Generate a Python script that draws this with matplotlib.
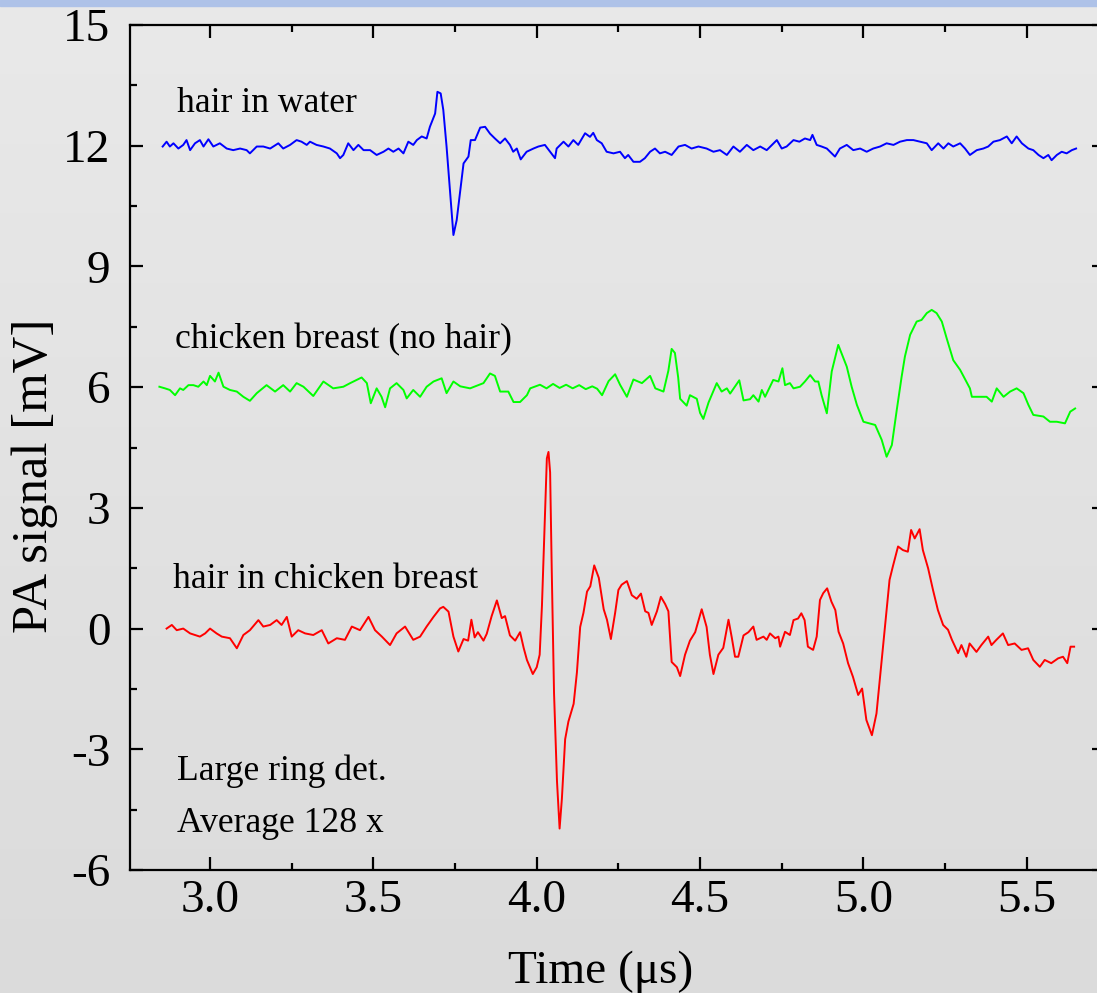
import numpy as np
import matplotlib.pyplot as plt
from matplotlib.colors import LinearSegmentedColormap
from matplotlib.patches import Rectangle
from matplotlib.ticker import MultipleLocator

plt.rcParams['font.family'] = ['Liberation Serif', 'DejaVu Serif']

# hair in water (blue)
t_water = [2.855, 2.867, 2.877, 2.888, 2.903, 2.918, 2.928, 2.939, 2.954, 2.969, 2.980, 2.995,
           3.010, 3.030, 3.051, 3.071, 3.092, 3.112, 3.122, 3.143, 3.163, 3.184, 3.209, 3.224,
           3.245, 3.265, 3.280, 3.296, 3.306, 3.326, 3.347, 3.367, 3.388, 3.398, 3.408, 3.423,
           3.439, 3.454, 3.470, 3.490, 3.510, 3.531, 3.546, 3.561, 3.577, 3.592, 3.607, 3.622,
           3.633, 3.648, 3.663, 3.673, 3.689, 3.696, 3.706, 3.714, 3.724, 3.735, 3.745, 3.755,
           3.765, 3.776, 3.791, 3.798, 3.811, 3.827, 3.842, 3.857, 3.872, 3.888, 3.903, 3.918,
           3.928, 3.939, 3.951, 3.969, 3.990, 4.005, 4.025, 4.041, 4.056, 4.061, 4.082, 4.097,
           4.112, 4.127, 4.148, 4.163, 4.173, 4.184, 4.199, 4.214, 4.235, 4.255, 4.270, 4.280,
           4.296, 4.316, 4.331, 4.347, 4.362, 4.377, 4.393, 4.413, 4.434, 4.454, 4.474, 4.495,
           4.520, 4.541, 4.561, 4.582, 4.602, 4.622, 4.643, 4.663, 4.684, 4.704, 4.735, 4.750,
           4.765, 4.786, 4.804, 4.821, 4.837, 4.844, 4.857, 4.872, 4.888, 4.898, 4.913, 4.928,
           4.949, 4.969, 4.990, 5.010, 5.030, 5.051, 5.071, 5.092, 5.112, 5.133, 5.153, 5.173,
           5.194, 5.209, 5.229, 5.245, 5.260, 5.275, 5.296, 5.311, 5.326, 5.347, 5.367, 5.382,
           5.398, 5.418, 5.439, 5.454, 5.469, 5.485, 5.505, 5.520, 5.536, 5.551, 5.566, 5.576,
           5.592, 5.607, 5.622, 5.638, 5.651]
v_water = [11.98, 12.10, 11.98, 12.06, 11.93, 12.02, 12.14, 11.89, 12.06, 12.14, 11.98, 12.16,
           11.98, 12.06, 11.93, 11.89, 11.93, 11.89, 11.81, 11.98, 11.98, 11.93, 12.06, 11.93,
           12.02, 12.14, 12.10, 12.02, 12.10, 12.02, 11.98, 11.93, 11.81, 11.69, 11.77, 12.06,
           11.89, 12.02, 11.89, 11.89, 11.77, 11.85, 11.93, 11.85, 11.93, 11.81, 12.10, 12.02,
           12.14, 12.23, 12.18, 12.47, 12.80, 13.34, 13.30, 12.89, 11.98, 10.82, 9.78, 10.15,
           10.82, 11.56, 11.73, 12.14, 12.14, 12.45, 12.47, 12.30, 12.18, 12.06, 12.18, 12.02,
           11.85, 11.93, 11.66, 11.85, 11.93, 11.98, 12.02, 11.85, 11.69, 11.93, 12.10, 11.98,
           12.14, 12.02, 12.31, 12.22, 12.32, 12.14, 12.06, 11.85, 11.81, 11.85, 11.69, 11.77,
           11.60, 11.60, 11.69, 11.85, 11.93, 11.81, 11.85, 11.77, 11.98, 12.02, 11.93, 11.98,
           11.93, 11.85, 11.89, 11.77, 11.98, 11.85, 12.02, 11.89, 11.98, 11.89, 12.14, 11.93,
           11.98, 12.14, 12.10, 12.18, 12.14, 12.27, 12.02, 11.98, 11.93, 11.85, 11.73, 11.93,
           12.02, 11.89, 11.93, 11.85, 11.93, 11.98, 12.06, 12.02, 12.10, 12.14, 12.14, 12.10,
           12.06, 11.89, 12.06, 11.93, 12.06, 11.98, 12.06, 11.93, 11.77, 11.89, 11.93, 11.98,
           12.10, 12.14, 12.23, 12.06, 12.23, 12.06, 11.93, 11.89, 11.77, 11.69, 11.77, 11.64,
           11.77, 11.85, 11.81, 11.89, 11.93]

# chicken breast, no hair (green)
t_chicken = [2.845, 2.862, 2.877, 2.893, 2.908, 2.918, 2.934, 2.949, 2.964, 2.980, 2.990, 3.000,
             3.015, 3.026, 3.041, 3.061, 3.082, 3.102, 3.122, 3.143, 3.173, 3.199, 3.224, 3.245,
             3.265, 3.286, 3.316, 3.347, 3.377, 3.408, 3.429, 3.464, 3.480, 3.492, 3.510, 3.525,
             3.536, 3.551, 3.571, 3.592, 3.602, 3.622, 3.643, 3.663, 3.684, 3.709, 3.724, 3.745,
             3.766, 3.796, 3.837, 3.857, 3.872, 3.888, 3.913, 3.929, 3.949, 3.970, 3.980, 4.010,
             4.030, 4.050, 4.070, 4.090, 4.110, 4.130, 4.150, 4.170, 4.185, 4.200, 4.220, 4.240,
             4.255, 4.276, 4.296, 4.322, 4.347, 4.363, 4.388, 4.403, 4.413, 4.423, 4.433, 4.439,
             4.459, 4.469, 4.490, 4.500, 4.510, 4.526, 4.551, 4.566, 4.582, 4.592, 4.620, 4.633,
             4.653, 4.663, 4.679, 4.689, 4.699, 4.709, 4.724, 4.740, 4.752, 4.760, 4.775, 4.786,
             4.806, 4.821, 4.837, 4.852, 4.862, 4.872, 4.888, 4.903, 4.923, 4.939, 4.949, 4.964,
             4.980, 5.000, 5.036, 5.056, 5.071, 5.087, 5.102, 5.117, 5.127, 5.143, 5.163, 5.178,
             5.194, 5.209, 5.224, 5.240, 5.255, 5.275, 5.296, 5.326, 5.332, 5.357, 5.377, 5.393,
             5.408, 5.429, 5.449, 5.469, 5.490, 5.505, 5.520, 5.551, 5.571, 5.592, 5.617, 5.633,
             5.648]
v_chicken = [6.01, 5.97, 5.93, 5.80, 5.97, 5.93, 6.05, 6.05, 6.01, 6.14, 6.05, 6.28,
             6.14, 6.36, 6.01, 5.93, 5.89, 5.76, 5.66, 5.85, 6.05, 5.89, 6.05, 5.89,
             6.10, 6.01, 5.78, 6.14, 5.97, 6.01, 6.10, 6.24, 6.10, 5.60, 5.97, 5.76,
             5.50, 5.97, 6.10, 5.93, 5.72, 5.93, 5.76, 6.01, 6.14, 6.22, 5.85, 6.14,
             6.02, 5.97, 6.10, 6.34, 6.28, 5.89, 5.89, 5.63, 5.63, 5.80, 5.97, 6.06,
             5.97, 6.08, 5.98, 6.06, 5.97, 6.05, 5.95, 6.02, 5.96, 5.80, 6.15, 6.32,
             6.06, 5.76, 6.19, 6.10, 6.28, 5.97, 5.89, 6.41, 6.95, 6.85, 6.24, 5.71,
             5.54, 5.80, 5.71, 5.36, 5.21, 5.62, 6.10, 5.89, 5.97, 5.84, 6.17, 5.67,
             5.70, 5.80, 5.64, 5.93, 5.76, 5.93, 6.18, 6.14, 6.47, 6.05, 6.10, 5.97,
             6.01, 6.14, 6.30, 6.14, 6.14, 5.80, 5.35, 6.39, 7.05, 6.72, 6.51, 6.01,
             5.56, 5.14, 5.06, 4.69, 4.27, 4.56, 5.43, 6.26, 6.76, 7.30, 7.63, 7.67,
             7.84, 7.92, 7.84, 7.63, 7.21, 6.67, 6.43, 5.97, 5.76, 5.76, 5.76, 5.64,
             5.97, 5.76, 5.89, 5.97, 5.85, 5.56, 5.31, 5.27, 5.14, 5.14, 5.10, 5.39,
             5.47]

# hair in chicken breast (red)
t_hair = [2.867, 2.883, 2.898, 2.918, 2.939, 2.969, 2.985, 3.000, 3.020, 3.036, 3.061, 3.082,
          3.102, 3.122, 3.148, 3.163, 3.184, 3.204, 3.219, 3.235, 3.250, 3.270, 3.291, 3.316,
          3.342, 3.362, 3.388, 3.413, 3.434, 3.459, 3.485, 3.505, 3.526, 3.551, 3.571, 3.597,
          3.622, 3.643, 3.663, 3.684, 3.704, 3.714, 3.730, 3.745, 3.760, 3.776, 3.790, 3.800,
          3.810, 3.820, 3.837, 3.847, 3.862, 3.878, 3.893, 3.903, 3.918, 3.934, 3.949, 3.960,
          3.970, 3.988, 4.000, 4.009, 4.016, 4.023, 4.031, 4.036, 4.041, 4.046, 4.053, 4.062,
          4.070, 4.077, 4.087, 4.097, 4.113, 4.123, 4.133, 4.143, 4.154, 4.164, 4.176, 4.190,
          4.205, 4.215, 4.227, 4.240, 4.250, 4.260, 4.276, 4.291, 4.306, 4.319, 4.332, 4.342,
          4.352, 4.368, 4.380, 4.393, 4.403, 4.413, 4.429, 4.439, 4.454, 4.469, 4.485, 4.505,
          4.520, 4.530, 4.541, 4.556, 4.571, 4.587, 4.597, 4.607, 4.617, 4.633, 4.648, 4.663,
          4.673, 4.694, 4.704, 4.714, 4.730, 4.740, 4.745, 4.760, 4.775, 4.786, 4.800, 4.810,
          4.820, 4.830, 4.846, 4.857, 4.867, 4.877, 4.889, 4.902, 4.914, 4.924, 4.938, 4.953,
          4.968, 4.984, 4.996, 5.009, 5.026, 5.040, 5.050, 5.065, 5.080, 5.090, 5.106, 5.121,
          5.136, 5.146, 5.157, 5.172, 5.182, 5.198, 5.213, 5.228, 5.244, 5.259, 5.271, 5.290,
          5.300, 5.315, 5.325, 5.346, 5.361, 5.382, 5.392, 5.407, 5.427, 5.443, 5.463, 5.484,
          5.504, 5.520, 5.540, 5.555, 5.575, 5.596, 5.611, 5.624, 5.634, 5.645]
v_hair = [0.00, 0.09, -0.04, 0.00, -0.12, -0.20, -0.12, 0.00, -0.12, -0.20, -0.24, -0.49,
          -0.16, -0.04, 0.21, 0.05, 0.09, 0.21, 0.09, 0.29, -0.20, -0.04, -0.12, -0.16,
          -0.04, -0.37, -0.24, -0.28, 0.05, -0.04, 0.29, -0.04, -0.20, -0.41, -0.12, 0.05,
          -0.28, -0.20, 0.05, 0.29, 0.50, 0.54, 0.42, -0.20, -0.57, -0.26, -0.30, 0.22,
          -0.22, -0.09, -0.30, -0.13, 0.31, 0.70, 0.26, 0.31, -0.17, -0.30, -0.09, -0.48,
          -0.78, -1.13, -0.96, -0.65, 0.57, 2.31, 4.23, 4.39, 3.88, 1.44, -1.61, -3.79,
          -4.97, -4.23, -2.75, -2.31, -1.87, -1.09, 0.04, 0.39, 0.92, 1.05, 1.57, 1.26,
          0.48, 0.22, -0.26, 0.39, 0.96, 1.09, 1.18, 0.83, 0.74, 0.87, 0.43, 0.39,
          0.09, 0.43, 0.79, 0.61, 0.43, -0.83, -0.96, -1.18, -0.65, -0.30, -0.09, 0.48,
          0.04, -0.65, -1.13, -0.65, -0.48, 0.22, -0.22, -0.70, -0.70, -0.17, -0.09, 0.05,
          -0.28, -0.20, -0.28, -0.12, -0.24, -0.20, -0.45, -0.08, -0.16, 0.21, 0.25, 0.38,
          0.21, -0.45, -0.53, -0.20, 0.71, 0.88, 1.00, 0.67, 0.46, -0.08, -0.37, -0.86,
          -1.20, -1.65, -1.49, -2.27, -2.65, -2.11, -1.28, -0.03, 1.21, 1.54, 2.04, 1.95,
          1.91, 2.45, 2.24, 2.47, 1.95, 1.50, 0.96, 0.46, 0.09, -0.03, -0.28, -0.61,
          -0.41, -0.70, -0.37, -0.58, -0.41, -0.20, -0.41, -0.28, -0.12, -0.41, -0.37, -0.53,
          -0.49, -0.78, -0.95, -0.78, -0.86, -0.74, -0.70, -0.86, -0.45, -0.45]

W, H = 1097, 993
fig = plt.figure(figsize=(W / 100, H / 100), dpi=100)

# grey gradient background with the thin blue band at the top
bg = fig.add_axes([0, 0, 1, 1], zorder=-1)
grad = np.linspace(0, 1, 256).reshape(-1, 1)
cmap = LinearSegmentedColormap.from_list('bg', ['#e9e9e9', '#dbdbdb'])
bg.imshow(grad, aspect='auto', cmap=cmap, extent=[0, 1, 0, 1], origin='upper')
bg.add_patch(Rectangle((0, 1 - 6 / H), 1, 6 / H, color='#aec2e8', transform=bg.transAxes))
bg.set_xlim(0, 1)
bg.set_ylim(0, 1)
bg.axis('off')

# right spine sits just past the picture edge
ax = fig.add_axes([130 / W, 123 / H, (1105 - 130) / W, 845 / H])
ax.set_facecolor('none')

ax.plot(t_water, v_water, color='#0000ff', lw=1.4)
ax.plot(t_chicken, v_chicken, color='#00ff00', lw=1.4)
ax.plot(t_hair, v_hair, color='#ff0000', lw=1.4)

ax.set_xlim(2.755, 5.7395)
ax.set_ylim(-6, 15)
ax.xaxis.set_major_locator(MultipleLocator(0.5))
ax.xaxis.set_minor_locator(MultipleLocator(0.25))
ax.yaxis.set_major_locator(MultipleLocator(3))
ax.yaxis.set_minor_locator(MultipleLocator(1.5))
ax.xaxis.set_major_formatter(plt.FormatStrFormatter('%.1f'))
ax.yaxis.set_major_formatter(plt.FormatStrFormatter('%d'))

ax.tick_params(which='both', direction='in', top=True, right=True, width=1.6, labelsize=34)
ax.tick_params(which='major', length=9.5)
ax.tick_params(which='minor', length=5)
ax.tick_params(axis='x', pad=7)
ax.tick_params(axis='y', pad=14)
for s in ax.spines.values():
    s.set_linewidth(1.6)

tsize = 25.7
ax.text(2.899, 12.85, 'hair in water', fontsize=tsize, va='baseline')
ax.text(2.893, 6.97, 'chicken breast (no hair)', fontsize=tsize, va='baseline')
ax.text(2.887, 1.01, 'hair in chicken breast', fontsize=tsize, va='baseline')
ax.text(2.899, -3.76, 'Large ring det.', fontsize=tsize, va='baseline')
ax.text(2.899, -5.05, 'Average 128 x', fontsize=tsize, va='baseline')

fig.text(601 / W, 10 / H, 'Time (μs)', fontsize=34, ha='center', va='baseline')
fig.text(12 / W, 1 - 476 / H, 'PA signal [mV]', fontsize=36.5, rotation=90,
         ha='left', va='center')

fig.savefig('out.png', dpi=100)
